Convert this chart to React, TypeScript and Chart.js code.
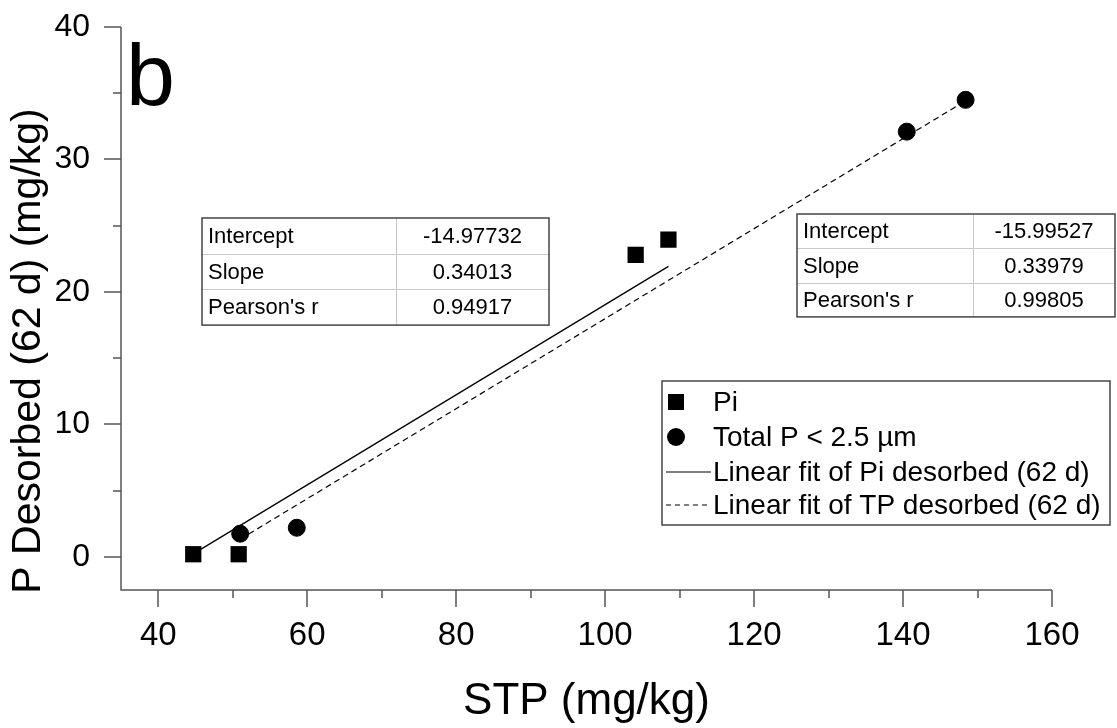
import React, { useEffect, useRef } from "react";
import { Chart, registerables } from "chart.js";
Chart.register(...registerables);

// ---- data ----
const piX = [44.7, 50.8, 104.1, 108.5];
const piY = [0.2, 0.2, 22.8, 23.95];
const tpX = [51.0, 58.6, 140.5, 148.4];
const tpY = [1.75, 2.2, 32.1, 34.5];

const statNames = ["Intercept", "Slope", "Pearson's r"];
const piStats = ["-14.97732", "0.34013", "0.94917"];
const tpStats = ["-15.99527", "0.33979", "0.99805"];
const piIntercept = -14.97732;
const piSlope = 0.34013;
const tpIntercept = -15.99527;
const tpSlope = 0.33979;
const piFitRange = [44.7, 108.5];
const tpFitRange = [51.0, 148.4];

const xTicks = [40, 60, 80, 100, 120, 140, 160];
const xMinorTicks = [50, 70, 90, 110, 130, 150];
const yTicks = [0, 10, 20, 30, 40];
const yMinorTicks = [5, 15, 25, 35];

const legendLabels = [
  "Pi",
  "Total P < 2.5 µm",
  "Linear fit of Pi desorbed (62 d)",
  "Linear fit of TP desorbed (62 d)",
];
const xTitle = "STP (mg/kg)";
const yTitle = "P Desorbed (62 d) (mg/kg)";
const panelLabel = "b";

const FONT = "'Liberation Sans', Arial, Helvetica, sans-serif";

function drawTable(ctx: CanvasRenderingContext2D, left: number, top: number, colX: number, right: number, rowH: number, vals: string[]) {
  const bottom = top + rowH * 3;
  ctx.save();
  ctx.fillStyle = "#fff";
  ctx.fillRect(left, top, right - left, bottom - top);
  ctx.strokeStyle = "#c8c8c8";
  ctx.lineWidth = 1;
  ctx.beginPath();
  for (let i = 1; i < 3; i++) {
    ctx.moveTo(left, Math.round(top + rowH * i) + 0.5);
    ctx.lineTo(right, Math.round(top + rowH * i) + 0.5);
  }
  ctx.moveTo(colX + 0.5, top);
  ctx.lineTo(colX + 0.5, bottom);
  ctx.stroke();
  ctx.strokeStyle = "#444";
  ctx.lineWidth = 1.5;
  ctx.strokeRect(left, top, right - left, bottom - top);
  ctx.fillStyle = "#000";
  ctx.font = `22px ${FONT}`;
  ctx.textBaseline = "middle";
  for (let i = 0; i < 3; i++) {
    const cy = top + rowH * (i + 0.5) + 1;
    ctx.textAlign = "left";
    ctx.fillText(statNames[i], left + 6, cy);
    ctx.textAlign = "center";
    ctx.fillText(vals[i], (colX + right) / 2, cy);
  }
  ctx.restore();
}

const decorPlugin = {
  id: "decor",
  afterDraw(chart: any) {
    const ctx: CanvasRenderingContext2D = chart.ctx;
    const xs = chart.scales.x;
    const ys = chart.scales.y;
    const ca = chart.chartArea;
    ctx.save();
    // axes
    ctx.strokeStyle = "#555";
    ctx.lineWidth = 1.5;
    ctx.beginPath();
    ctx.moveTo(ca.left, ca.top);
    ctx.lineTo(ca.left, ca.bottom);
    ctx.lineTo(ca.right, ca.bottom);
    // ticks
    xTicks.forEach((v) => {
      const px = Math.round(xs.getPixelForValue(v));
      ctx.moveTo(px, ca.bottom);
      ctx.lineTo(px, ca.bottom + 17);
    });
    xMinorTicks.forEach((v) => {
      const px = Math.round(xs.getPixelForValue(v));
      ctx.moveTo(px, ca.bottom);
      ctx.lineTo(px, ca.bottom + 8);
    });
    yTicks.forEach((v) => {
      const py = Math.round(ys.getPixelForValue(v));
      ctx.moveTo(ca.left, py);
      ctx.lineTo(ca.left - 17, py);
    });
    yMinorTicks.forEach((v) => {
      const py = Math.round(ys.getPixelForValue(v));
      ctx.moveTo(ca.left, py);
      ctx.lineTo(ca.left - 8, py);
    });
    ctx.stroke();

    // titles
    ctx.fillStyle = "#000";
    ctx.font = `44px ${FONT}`;
    ctx.textAlign = "center";
    ctx.textBaseline = "alphabetic";
    ctx.fillText(xTitle, (ca.left + ca.right) / 2, 714);
    ctx.save();
    ctx.translate(40, 351);
    ctx.rotate(-Math.PI / 2);
    ctx.font = `41px ${FONT}`;
    ctx.fillText(yTitle, 0, 0);
    ctx.restore();

    ctx.font = `88px ${FONT}`;
    ctx.textAlign = "left";
    ctx.fillText(panelLabel, 126, 105);

    // tables
    drawTable(ctx, 202, 218, 396, 549, 35.7, piStats);
    drawTable(ctx, 797, 214, 973, 1115, 34.3, tpStats);

    // legend
    const lx = 662, ly = 381, lr = 1110, lb = 525;
    ctx.fillStyle = "#fff";
    ctx.fillRect(lx, ly, lr - lx, lb - ly);
    ctx.strokeStyle = "#444";
    ctx.lineWidth = 1.5;
    ctx.strokeRect(lx, ly, lr - lx, lb - ly);
    const rows = [402, 437, 472, 505];
    const symX = 676;
    ctx.fillStyle = "#000";
    ctx.fillRect(symX - 8, rows[0] - 8, 16, 16);
    ctx.beginPath();
    ctx.arc(symX, rows[1], 9, 0, Math.PI * 2);
    ctx.fill();
    ctx.strokeStyle = "#000";
    ctx.lineWidth = 1.2;
    ctx.beginPath();
    ctx.moveTo(666, rows[2]);
    ctx.lineTo(711, rows[2]);
    ctx.stroke();
    ctx.setLineDash([5, 4]);
    ctx.beginPath();
    ctx.moveTo(666, rows[3]);
    ctx.lineTo(711, rows[3]);
    ctx.stroke();
    ctx.setLineDash([]);
    ctx.font = `28px ${FONT}`;
    ctx.textBaseline = "middle";
    ctx.textAlign = "left";
    legendLabels.forEach((t, i) => ctx.fillText(t, 713, rows[i] + 1));
    ctx.restore();
  },
};

export default function App() {
  const ref = useRef<HTMLCanvasElement>(null);
  useEffect(() => {
    const canvas = ref.current!;
    const chart = new Chart(canvas, {
      type: "scatter",
      data: {
        datasets: [
          {
            label: legendLabels[0],
            data: piX.map((x, i) => ({ x, y: piY[i] })),
            pointStyle: "rect",
            pointRadius: 11.5,
            backgroundColor: "#000",
            borderColor: "#000",
            borderWidth: 0,
          },
          {
            label: legendLabels[1],
            data: tpX.map((x, i) => ({ x, y: tpY[i] })),
            pointStyle: "circle",
            pointRadius: 8.5,
            backgroundColor: "#000",
            borderColor: "#000",
            borderWidth: 1,
          },
          {
            label: legendLabels[2],
            data: piFitRange.map((x) => ({ x, y: piIntercept + piSlope * x })),
            showLine: true,
            pointRadius: 0,
            borderColor: "#000",
            borderWidth: 1.3,
          },
          {
            label: legendLabels[3],
            data: tpFitRange.map((x) => ({ x, y: tpIntercept + tpSlope * x })),
            showLine: true,
            pointRadius: 0,
            borderColor: "#000",
            borderWidth: 1.2,
            borderDash: [6, 4],
          },
        ],
      },
      options: {
        animation: false,
        responsive: false,
        devicePixelRatio: 1,
        layout: { padding: { left: 0, top: 27, right: 65, bottom: 0 } },
        plugins: { legend: { display: false }, tooltip: { enabled: false } },
        scales: {
          x: {
            type: "linear",
            min: 35,
            max: 160,
            grid: { display: false, drawTicks: false },
            border: { display: false },
            afterBuildTicks: (s: any) => {
              s.ticks = xTicks.map((v) => ({ value: v }));
            },
            afterFit: (s: any) => {
              s.height = 138;
              s.paddingLeft = 0;
              s.paddingRight = 0;
            },
            ticks: {
              padding: 26,
              color: "#000",
              maxRotation: 0,
              autoSkip: false,
              font: { family: FONT, size: 33 },
            },
          },
          y: {
            type: "linear",
            min: -2.5,
            max: 40,
            grid: { display: false, drawTicks: false },
            border: { display: false },
            afterBuildTicks: (s: any) => {
              s.ticks = yTicks.map((v) => ({ value: v }));
            },
            afterFit: (s: any) => {
              s.width = 121;
              s.paddingTop = 0;
              s.paddingBottom = 0;
            },
            ticks: {
              padding: 31,
              color: "#000",
              autoSkip: false,
              font: { family: FONT, size: 32 },
            },
          },
        },
      },
      plugins: [decorPlugin],
    } as any);
    return () => chart.destroy();
  }, []);
  return (
    <div style={{ position: "absolute", left: 0, top: 0, width: 1117, height: 728, background: "#fff" }}>
      <canvas ref={ref} width={1117} height={728} style={{ display: "block" }} />
    </div>
  );
}
